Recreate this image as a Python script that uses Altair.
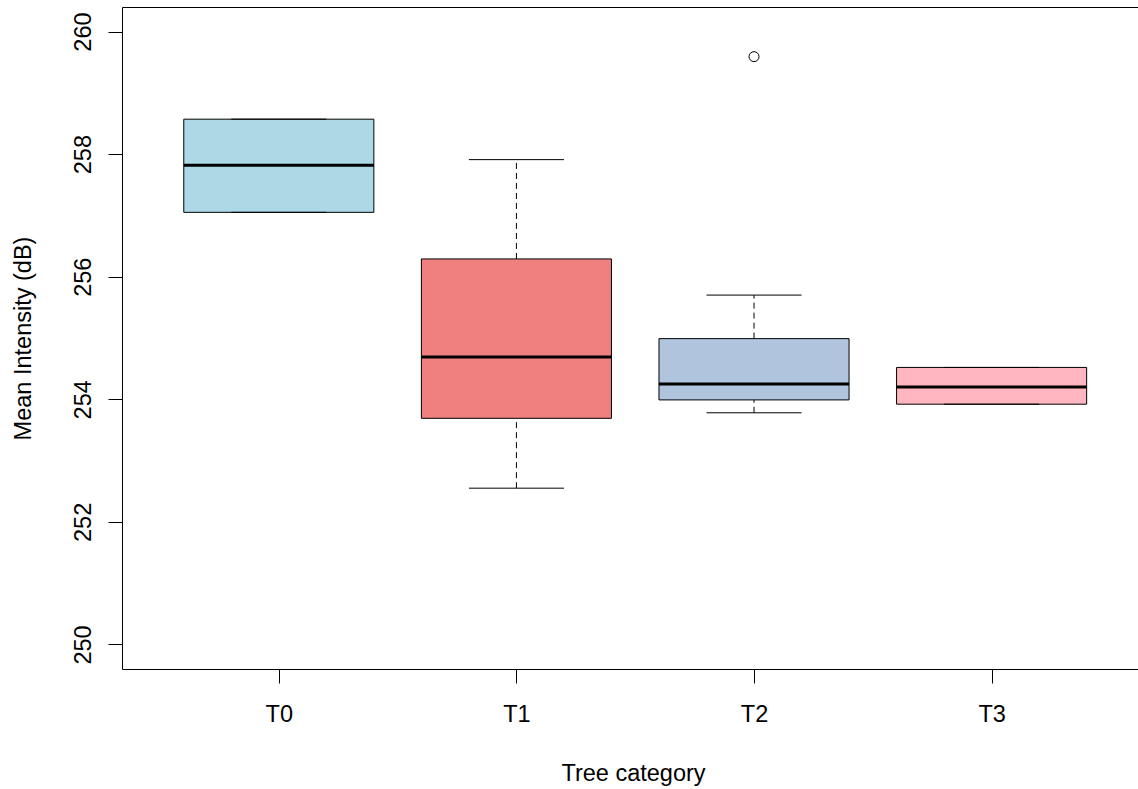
import json
import altair as alt
import pandas as pd

# ---- data ----
categories = ["T0", "T1", "T2", "T3"]
lower_whisker = [257.05, 252.55, 253.78, 253.92]
q1 = [257.05, 253.69, 253.99, 253.92]
median = [257.82, 254.69, 254.25, 254.20]
q3 = [258.57, 256.29, 254.99, 254.52]
upper_whisker = [258.57, 257.91, 255.70, 254.52]
outlier_cat = ["T2"]
outlier_val = [259.59]
fill_colors = ["#ADD8E6", "#F08080", "#B0C4DE", "#FFB6C1"]
y_ticks = [250, 252, 254, 256, 258, 260]

BOX_HALF = 0.4
CAP_HALF = 0.2

rows = []
for i, c in enumerate(categories):
    p = i + 1
    rows.append(dict(cat=c, pos=p, lo=p - BOX_HALF, hi=p + BOX_HALF,
                     clo=p - CAP_HALF, chi=p + CAP_HALF,
                     lw=lower_whisker[i], q1=q1[i], med=median[i],
                     q3=q3[i], uw=upper_whisker[i]))
df = pd.DataFrame(rows)
odf = pd.DataFrame({"cat": outlier_cat, "val": outlier_val,
                    "pos": [categories.index(c) + 1 for c in outlier_cat]})

W, H = 1016, 662
FONT = "Liberation Sans"
FS = 23.5

xscale = alt.Scale(domain=[0.34, 0.34 + W / 237.6], nice=False, zero=False)
yscale = alt.Scale(domain=[249.6, 260.4], nice=False, zero=False)

label_expr = json.dumps(categories) + "[datum.value - 1]"

x_axis = alt.Axis(values=[1, 2, 3, 4], labelExpr=label_expr, title="Tree category",
                  grid=False, tickSize=14, labelPadding=38, labelBaseline="alphabetic",
                  labelAngle=0, titleX=W / 2 + 3, titleY=111, titleBaseline="alphabetic",
                  titleAlign="center", titleAnchor="middle")
y_axis = alt.Axis(values=y_ticks, title="Mean Intensity (dB)", grid=False, tickSize=14,
                  labelAngle=270, labelAlign="center", labelBaseline="alphabetic",
                  labelPadding=18, titleAngle=270, titleX=-92, titleY=H / 2,
                  titleBaseline="alphabetic", titleAlign="center")

base = alt.Chart(df)

whisk_up = base.mark_rule(color="black", strokeWidth=1, strokeDash=[6, 4]).encode(
    x=alt.X("pos:Q", scale=xscale, axis=None),
    y=alt.Y("q3:Q", scale=yscale, axis=None), y2="uw:Q")
whisk_lo = base.mark_rule(color="black", strokeWidth=1, strokeDash=[6, 4]).encode(
    x=alt.X("pos:Q", scale=xscale, axis=None),
    y=alt.Y("lw:Q", scale=yscale, axis=None), y2="q1:Q")
cap_up = base.mark_rule(color="black", strokeWidth=1).encode(
    x=alt.X("clo:Q", scale=xscale, axis=None), x2="chi:Q",
    y=alt.Y("uw:Q", scale=yscale, axis=None))
cap_lo = base.mark_rule(color="black", strokeWidth=1).encode(
    x=alt.X("clo:Q", scale=xscale, axis=None), x2="chi:Q",
    y=alt.Y("lw:Q", scale=yscale, axis=None))
box = base.mark_rect(stroke="black", strokeWidth=1).encode(
    x=alt.X("lo:Q", scale=xscale, axis=x_axis), x2="hi:Q",
    y=alt.Y("q1:Q", scale=yscale, axis=y_axis), y2="q3:Q",
    color=alt.Color("cat:N", scale=alt.Scale(domain=categories, range=fill_colors),
                    legend=None))
med = base.mark_rule(color="black", strokeWidth=3, strokeCap="butt").encode(
    x=alt.X("lo:Q", scale=xscale, axis=None), x2="hi:Q",
    y=alt.Y("med:Q", scale=yscale, axis=None))
outl = alt.Chart(odf).mark_point(shape="circle", filled=False, size=100,
                                 color="black", strokeWidth=1, opacity=1).encode(
    x=alt.X("pos:Q", scale=xscale,
            axis=alt.Axis(orient="top", labels=False, ticks=False, domain=True,
                          title=None, grid=False)),
    y=alt.Y("val:Q", scale=yscale, axis=None))

chart = alt.layer(box, whisk_up, whisk_lo, cap_up, cap_lo, med, outl).resolve_axis(
    x="independent", y="independent"
).properties(
    width=W, height=H,
    autosize=alt.AutoSizeParams(type="none"),
    padding={"left": 122, "top": 7, "right": 0, "bottom": 789 - 7 - H},
    background="white",
).configure_view(stroke=None).configure_axis(
    labelFont=FONT, labelFontSize=FS, labelColor="black",
    titleFont=FONT, titleFontSize=FS, titleFontWeight="normal", titleColor="black",
    domainColor="black", domainWidth=1, tickColor="black", tickWidth=1,
)

chart.save("out.html", embed_options={"renderer": "svg", "actions": False})
